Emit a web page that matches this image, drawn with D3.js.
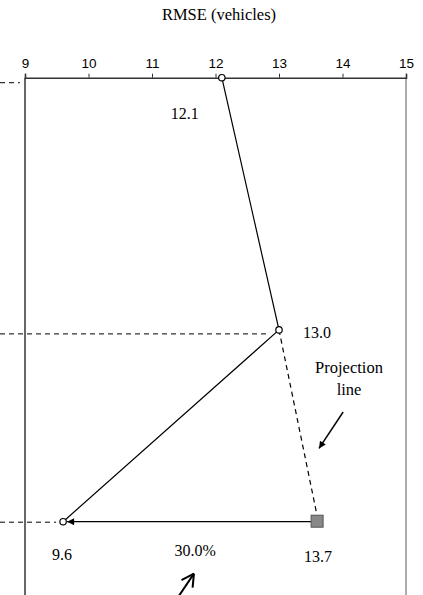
<!DOCTYPE html>
<html>
<head>
<meta charset="utf-8">
<script src="https://cdn.jsdelivr.net/npm/d3@7"></script>
<style>
  body { margin: 0; background: #fff; }
  svg { display: block; }
</style>
</head>
<body>
<svg id="chart" width="423" height="595"></svg>
<script>
// data
var xTicks = [9, 10, 11, 12, 13, 14, 15];
var stageLevel = [0, 0.568, 1];          // vertical position of each step
var rmse = [12.1, 13.0, 9.6];
var rmseLabels = ["12.1", "13.0", "9.6"];
var guideEnd = [8.92, 12.83, 9.49];      // where the dashed guides stop
var projected = 13.6;                    // plotted position of projected point
var projectedLabel = "13.7";
var reductionLabel = "30.0%";

var width = 423, height = 595;
var serif = "'Liberation Serif', 'Times New Roman', serif";
var sans = "'Liberation Sans', Arial, sans-serif";

var x = d3.scaleLinear().domain([9, 15]).range([25, 406]);
var y = d3.scaleLinear().domain([0, 1]).range([77.7, 521.7]);

var svg = d3.select("#chart");

var defs = svg.append("defs");
defs.append("marker")
  .attr("id", "head")
  .attr("viewBox", "0 0 10 10")
  .attr("refX", 10).attr("refY", 5)
  .attr("markerWidth", 8).attr("markerHeight", 7)
  .attr("markerUnits", "userSpaceOnUse")
  .attr("orient", "auto")
  .append("path").attr("d", "M0,0L10,5L0,10z").attr("fill", "#000");

// title
svg.append("text")
  .attr("x", 219).attr("y", 20)
  .attr("text-anchor", "middle")
  .style("font-family", serif).style("font-size", "16.5px")
  .text("RMSE (vehicles)");

// side frame lines
svg.append("line")
  .attr("x1", x(9)).attr("x2", x(9)).attr("y1", y(0)).attr("y2", height)
  .attr("stroke", "#000").attr("stroke-width", 1.2);
svg.append("line")
  .attr("x1", x(15)).attr("x2", x(15)).attr("y1", y(0)).attr("y2", height)
  .attr("stroke", "#999").attr("stroke-width", 1.6);

// top axis
var xAxis = d3.axisTop(x).tickValues(xTicks).tickFormat(d3.format("d"))
  .tickSizeInner(4).tickSizeOuter(4).tickPadding(6);
var ax = svg.append("g")
  .attr("transform", "translate(0," + y(0) + ")")
  .call(xAxis);
ax.select(".domain").attr("stroke", "#333").attr("stroke-width", 1.6);
ax.selectAll(".tick line").attr("stroke", "#333");
ax.selectAll(".tick text")
  .style("font-family", sans).style("font-size", "13.5px").attr("fill", "#000");

// dashed guides from the left
var guideOffset = [5, 4, 0.5];
svg.selectAll(".guide")
  .data(stageLevel)
  .enter().append("line")
  .attr("class", "guide")
  .attr("x1", 0)
  .attr("x2", function(d, i) { return x(guideEnd[i]); })
  .attr("y1", function(d, i) { return y(d) + guideOffset[i]; })
  .attr("y2", function(d, i) { return y(d) + guideOffset[i]; })
  .attr("stroke", "#000").attr("stroke-width", 1)
  .attr("stroke-dasharray", "5,4");

// solid path through the three results
var pts = rmse.map(function(v, i) { return [v, stageLevel[i]]; });
var line = d3.line()
  .x(function(d) { return x(d[0]); })
  .y(function(d) { return y(d[1]); });
svg.append("path")
  .attr("d", line(pts))
  .attr("fill", "none").attr("stroke", "#000").attr("stroke-width", 1.2);

// projection line (dashed)
svg.append("line")
  .attr("x1", x(rmse[1])).attr("y1", y(stageLevel[1]))
  .attr("x2", x(projected)).attr("y2", y(stageLevel[2]) - 6)
  .attr("stroke", "#000").attr("stroke-width", 1.2)
  .attr("stroke-dasharray", "5,4");

// arrow from projected point back to final result
svg.append("line")
  .attr("x1", x(projected) - 6).attr("y1", y(stageLevel[2]))
  .attr("x2", x(rmse[2]) + 4).attr("y2", y(stageLevel[2]))
  .attr("stroke", "#000").attr("stroke-width", 1.3)
  .attr("marker-end", "url(#head)");

// projected point
svg.append("rect")
  .attr("x", x(projected) - 6).attr("y", y(stageLevel[2]) - 6.5)
  .attr("width", 12).attr("height", 12)
  .attr("fill", "#888").attr("stroke", "#555").attr("stroke-width", 1);

// result points
svg.selectAll(".pt")
  .data(pts)
  .enter().append("circle")
  .attr("class", "pt")
  .attr("cx", function(d) { return x(d[0]); })
  .attr("cy", function(d) { return y(d[1]); })
  .attr("r", 3.2)
  .attr("fill", "#fff").attr("stroke", "#000").attr("stroke-width", 1.2);

// value labels
var labelPos = [[-37, 41], [24, 8], [-1, 38]];
svg.selectAll(".lbl")
  .data(pts)
  .enter().append("text")
  .attr("class", "lbl")
  .attr("x", function(d, i) { return x(d[0]) + labelPos[i][0]; })
  .attr("y", function(d, i) { return y(d[1]) + labelPos[i][1]; })
  .attr("text-anchor", function(d, i) { return i === 1 ? "start" : "middle"; })
  .style("font-family", serif).style("font-size", "16px")
  .text(function(d, i) { return rmseLabels[i]; });

svg.append("text")
  .attr("x", x(projected) + 1).attr("y", y(stageLevel[2]) + 40)
  .attr("text-anchor", "middle")
  .style("font-family", serif).style("font-size", "16px")
  .text(projectedLabel);

svg.append("text")
  .attr("x", x((rmse[2] + projected) / 2) + 5).attr("y", y(stageLevel[2]) + 34)
  .attr("text-anchor", "middle")
  .style("font-family", serif).style("font-size", "16px")
  .text(reductionLabel);

// "Projection line" annotation
var note = svg.append("text")
  .attr("x", 349).attr("y", 373)
  .attr("text-anchor", "middle")
  .style("font-family", serif).style("font-size", "16.5px");
note.append("tspan").attr("x", 349).text("Projection");
note.append("tspan").attr("x", 349).attr("dy", 22).text("line");

svg.append("line")
  .attr("x1", x(14.01)).attr("y1", y(0.753))
  .attr("x2", x(13.63)).attr("y2", y(0.835))
  .attr("stroke", "#000").attr("stroke-width", 1.5)
  .attr("marker-end", "url(#head)");

// open arrow at the bottom
var tip = [x(11.66), y(1.117)];
var tail = [x(11.38), 600];
svg.append("line")
  .attr("x1", tail[0]).attr("y1", tail[1]).attr("x2", tip[0]).attr("y2", tip[1])
  .attr("stroke", "#000").attr("stroke-width", 2);
var ang = Math.atan2(tip[1] - tail[1], tip[0] - tail[0]);
[-0.5, 0.5].forEach(function(s) {
  svg.append("line")
    .attr("x1", tip[0]).attr("y1", tip[1])
    .attr("x2", tip[0] - 14 * Math.cos(ang + s))
    .attr("y2", tip[1] - 14 * Math.sin(ang + s))
    .attr("stroke", "#000").attr("stroke-width", 2);
});
</script>
</body>
</html>
